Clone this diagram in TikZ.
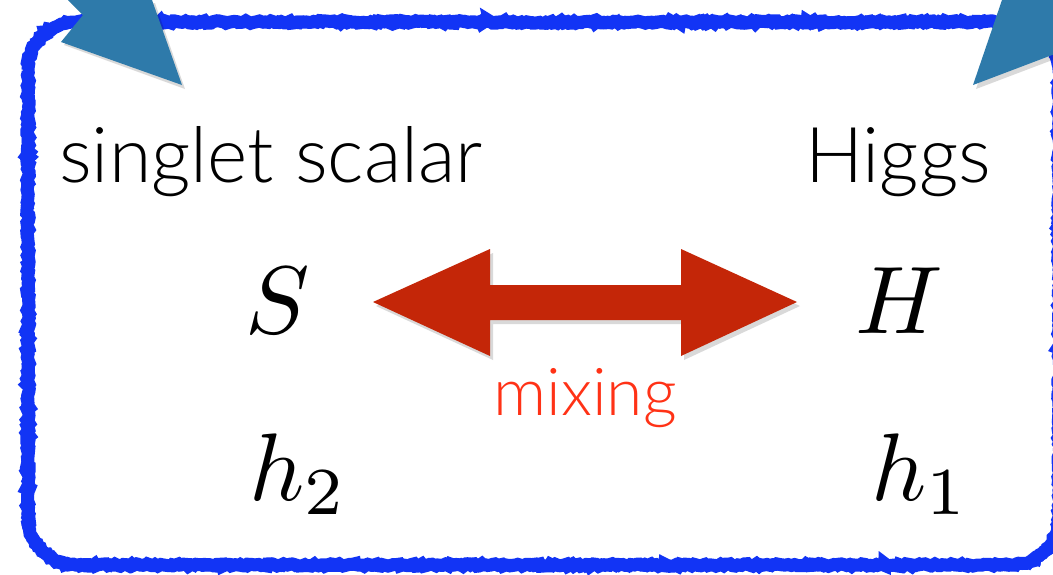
\documentclass[tikz,border=0pt]{standalone}
\usepackage{graphicx}
\usepackage{fontspec}
\setmainfont{Lato}[UprightFont={* Light}]
\usetikzlibrary{decorations.pathmorphing}
\definecolor{bordercol}{RGB}{18,52,245}
\definecolor{tealcol}{RGB}{46,122,170}
\definecolor{arrowred}{RGB}{196,38,8}
\definecolor{mixred}{RGB}{255,50,22}
\newcommand{\bigmath}[1]{\scalebox{9.6}{$#1$}}
\tikzset{
  rough/.style={decorate, decoration={random steps, segment length=2.5pt, amplitude=1.3pt}, bordercol},
  tealarrow/.style={fill=tealcol},
  shadowfill/.style={fill=black, opacity=0.22},
  label/.style={inner sep=0pt, font=\fontsize{77}{80}\selectfont},
  mathlbl/.style={inner sep=0pt},
}
\begin{document}
\begin{tikzpicture}[x=1pt, y=-1pt]
\pgfmathsetseed{7}
\useasboundingbox (0,0) rectangle (1053,574);
\clip (0,0) rectangle (1053,574);
\fill[white] (0,0) rectangle (1053,574);
% rough blue border
\draw[rough, line width=13pt] {[rounded corners=48pt] (28,22) rectangle (1059,565)};
\draw[rough, line width=8pt, decoration={random steps, segment length=4pt, amplitude=2pt}] {[rounded corners=48pt] (27,21) rectangle (1060,566)};
% teal arrow heads (shadows first)
\fill[shadowfill, opacity=0.15] (71,3) -- (86,18) -- (64,45) -- (185,89) -- (155,3) -- cycle;
\fill[tealarrow] (68,0) -- (83,15) -- (61,42) -- (182,85) -- (152,0) -- cycle;
\fill[shadowfill, opacity=0.15] (1005,3) -- (976,89) -- (1063,56) -- (1063,3) -- cycle;
\fill[tealarrow] (1002,0) -- (973,85) -- (1060,52) -- (1060,0) -- cycle;
% labels
\node[label, anchor=base west] (singlet) at (59,182) {singlet scalar};
\node[label, anchor=base west] (higgs) at (805,182) {Higgs};
\node[mathlbl, anchor=base] (S) at (278,333) {\bigmath{S}};
\node[mathlbl, anchor=base] (H) at (899,333) {\bigmath{H}};
\node[mathlbl, anchor=base west] (h2) at (249,500) {\bigmath{h_2}};
\node[mathlbl, anchor=base west] (h1) at (871,500) {\bigmath{h_1}};
% red mixing double arrow
\coordinate (aL) at (373,302);
\coordinate (aR) at (797,302);
\fill[shadowfill, opacity=0.15] ([shift={(3,4)}]aL) -- (493,253) -- (493,289) -- (684,289) -- (684,253) -- ([shift={(3,4)}]aR) -- (684,360) -- (684,324) -- (493,324) -- (493,360) -- cycle;
\fill[arrowred] (aL) -- (490,249) -- (490,285) -- (681,285) -- (681,249) -- (aR) -- (681,356) -- (681,320) -- (490,320) -- (490,356) -- cycle;
\node[inner sep=0pt, anchor=base, text=mixred, font=\fontsize{66}{70}\selectfont] (mix) at (585,415) {mixing};
\end{tikzpicture}
\end{document}
